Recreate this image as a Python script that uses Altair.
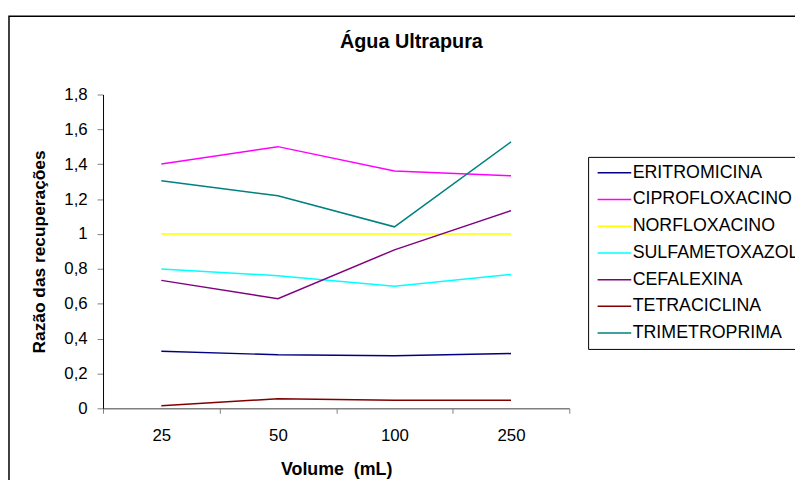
import altair as alt
import pandas as pd

volumes = ["25", "50", "100", "250"]
names = ["ERITROMICINA", "CIPROFLOXACINO", "NORFLOXACINO", "SULFAMETOXAZOL",
         "CEFALEXINA", "TETRACICLINA", "TRIMETROPRIMA"]
colors = ["#000080", "#FF00FF", "#FFFF00", "#00FFFF", "#800080", "#800000", "#008080"]

eritromicina = [0.328, 0.307, 0.301, 0.314]
ciprofloxacino = [1.401, 1.501, 1.361, 1.334]
norfloxacino = [1.0, 1.0, 1.0, 1.0]
sulfametoxazol = [0.799, 0.761, 0.700, 0.768]
cefalexina = [0.734, 0.629, 0.909, 1.134]
tetraciclina = [0.015, 0.055, 0.047, 0.047]
trimetroprima = [1.306, 1.219, 1.041, 1.528]

series = [eritromicina, ciprofloxacino, norfloxacino, sulfametoxazol,
          cefalexina, tetraciclina, trimetroprima]

rows = []
for n, vals in zip(names, series):
    for v, val in zip(volumes, vals):
        rows.append({"vol": v, "val": val, "serie": n})
df = pd.DataFrame(rows)

FONT = "Liberation Sans"

lines = alt.Chart(df).mark_line(strokeWidth=1.5, clip=False).encode(
    x=alt.X("vol:N", sort=volumes, bandPosition=0.5,
            scale=alt.Scale(type="band", paddingInner=0, paddingOuter=0),
            axis=alt.Axis(title="Volume\u00a0 (mL)", tickBand="extent", labelAngle=0,
                          domainColor="#808080", tickColor="#808080", tickSize=5,
                          domainWidth=1.5, labelFontSize=17, labelPadding=15,
                          labelColor="black", titleFontSize=18, titleFontWeight="bold",
                          titlePadding=17, titleColor="black", grid=False)),
    y=alt.Y("val:Q", scale=alt.Scale(domain=[0, 1.8], nice=False),
            axis=alt.Axis(title="Razão das recuperações",
                          values=[0, 0.2, 0.4, 0.6, 0.8, 1.0, 1.2, 1.4, 1.6, 1.8],
                          labelExpr="replace(format(datum.value, '.1~f'), '.', ',')",
                          domainColor="black", tickColor="#808080", tickSize=6,
                          labelFontSize=17, labelPadding=10, labelColor="black",
                          titleFontSize=17.5, titleFontWeight="bold", titlePadding=15,
                          titleColor="black", grid=False)),
    color=alt.Color("serie:N", sort=names,
                    scale=alt.Scale(domain=names, range=colors),
                    legend=alt.Legend(title=None, orient="none", legendX=490, legendY=63,
                                      symbolType="M-1.6,0H6.9", symbolSize=64,
                                      symbolStrokeWidth=1.5, labelOffset=20,
                                      labelFontSize=18, labelColor="black", labelLimit=400,
                                      rowPadding=9, padding=7, strokeColor="black",
                                      fillColor="white")),
)

frame = alt.Chart(pd.DataFrame({"a": [0]})).mark_rect(
    fillOpacity=0, stroke="black", strokeWidth=1.5, clip=False
).encode(x=alt.value(-95), x2=alt.value(800), y=alt.value(-79), y2=alt.value(520))

chart = alt.layer(frame, lines).properties(
    width=471, height=317,
    autosize=alt.AutoSizeParams(type="none"),
    padding={"left": 96, "top": 85, "right": 228, "bottom": 70},
    title=alt.TitleParams("Água Ultrapura", fontSize=20, fontWeight="bold",
                          font=FONT, anchor="middle", frame="group", dx=76, offset=0,
                          dy=53, baseline="alphabetic", color="black"),
).configure(font=FONT).configure_view(stroke=None)

chart.save("out.html", embed_options={"renderer": "svg", "actions": False})
